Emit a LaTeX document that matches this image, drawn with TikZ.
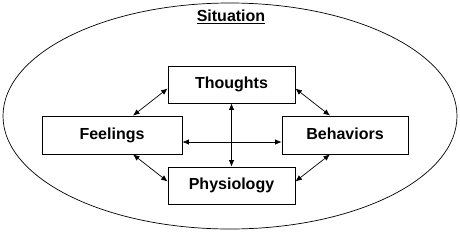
\documentclass[tikz,border=0pt]{standalone}
\usepackage{fontspec}
\setmainfont{Liberation Sans}
\usetikzlibrary{arrows.meta}
\begin{document}
\begin{tikzpicture}[x=1pt,y=-1pt,
  lbl/.style={font=\fontsize{16}{19}\selectfont\bfseries},
  box/.style={lbl,draw,line width=0.8pt,minimum width=127pt,minimum height=37pt,inner sep=0pt},
  link/.style={line width=0.7pt,{Latex[length=6.5pt,width=5.5pt]}-{Latex[length=6.5pt,width=5.5pt]}}]
\useasboundingbox (0,0) rectangle (460,231);
\draw[line width=0.7pt] (230,116) ellipse [x radius=227, y radius=113];
\node[lbl] (sit) at (231,17) {\underline{Situation}};
\node[box] (tho) at (231.5,84.5) {\raisebox{2pt}{Thoughts}};
\node[box,minimum width=140pt,minimum height=38pt] (fee) at (112,135) {\raisebox{3pt}{Feelings}};
\node[box,minimum width=126pt,minimum height=38pt] (beh) at (345,135) {\raisebox{3pt}{Behaviors}};
\node[box] (phy) at (231.5,185.5) {\raisebox{3pt}{Physiology}};
\coordinate (thoL) at ([yshift=-4pt]tho.west);
\coordinate (thoR) at ([yshift=-4pt]tho.east);
\coordinate (phyL) at ([yshift=4pt]phy.west);
\coordinate (phyR) at ([yshift=4pt]phy.east);
\coordinate (feeT) at ([xshift=21pt]fee.north);
\coordinate (feeB) at ([xshift=21pt]fee.south);
\coordinate (behT) at ([xshift=-15pt]beh.north);
\coordinate (behB) at ([xshift=-15pt]beh.south);
\draw[link] (thoL) -- (feeT);
\draw[link] (thoR) -- (behT);
\draw[link] (feeB) -- (phyL);
\draw[link] (behB) -- (phyR);
\draw[link] ([yshift=-7pt]fee.east) -- ([yshift=-7pt]beh.west);
\draw[link] (tho.south) -- (phy.north);
\end{tikzpicture}
\end{document}
